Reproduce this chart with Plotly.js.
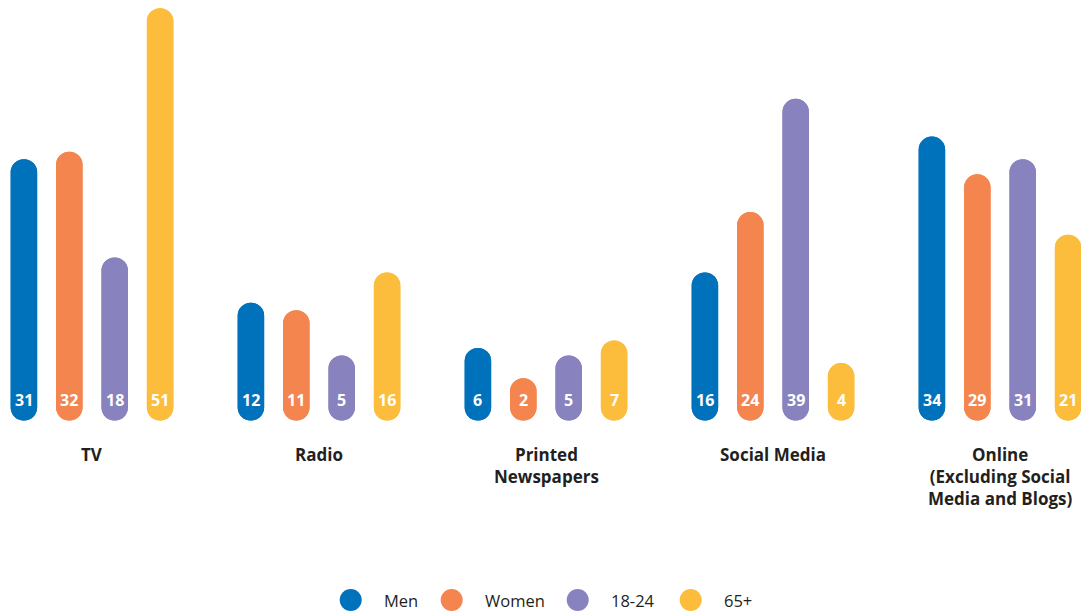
<!DOCTYPE html>
<html>
<head>
<meta charset="utf-8">
<script src="https://cdn.plot.ly/plotly-3.0.1.min.js"></script>
<style>
html,body{margin:0;padding:0;background:#fff;}
#chart{width:1081px;height:614px;}
</style>
</head>
<body>
<div id="chart"></div>
<script>
// ---- data ----
var categories = ['TV', 'Radio', 'Printed<br>Newspapers', 'Social Media', 'Online<br>(Excluding Social<br>Media and Blogs)'];
var seriesNames = ['Men', 'Women', '18-24', '65+'];
var men      = [31, 12, 6, 16, 34];
var women    = [32, 11, 2, 24, 29];
var age18_24 = [18, 5, 5, 39, 31];
var age65    = [51, 16, 7, 4, 21];
var seriesValues = [men, women, age18_24, age65];
var seriesColors = ['#0072bc', '#f4854f', '#8883be', '#fdbd3c'];

// ---- layout constants ----
var W = 1081, H = 614;
var plotBottomPx = 430;           // bottom of plot area (px from top)
var groupStep = 0.2;              // offset between bars inside a group (x units)
var barWidth = 0.1167;            // bar width (x units)
var pillBase = -3.6;              // rounded bottom extends below zero
var labelY = -0.9;                // value-label position
var xRange = [-0.4053, 4.3568];
var yRange = [-4.86, 52.09];
var textFont = 'Open Sans, Noto Sans, sans-serif';
var darkText = '#231f20';

var traces = [];
var annotations = [];
var shapes = [];

seriesValues.forEach(function (vals, j) {
  var xs = vals.map(function (v, i) { return i + (j - 1.5) * groupStep; });
  // upward bar, rounded top
  traces.push({
    type: 'bar', x: xs, y: vals.map(function (v) { return v - pillBase; }),
    base: vals.map(function () { return pillBase; }),
    width: barWidth, marker: {color: seriesColors[j], cornerradius: '50%', line: {width: 0}},
    name: seriesNames[j], showlegend: false, hoverinfo: 'skip'
  });
  // downward bar, rounded bottom
  traces.push({
    type: 'bar', x: xs, y: vals.map(function (v) { return pillBase - v; }),
    base: vals,
    width: barWidth, marker: {color: seriesColors[j], cornerradius: '50%', line: {width: 0}},
    name: seriesNames[j], showlegend: false, hoverinfo: 'skip'
  });
  vals.forEach(function (v, i) {
    annotations.push({
      x: xs[i], y: labelY, xref: 'x', yref: 'y', text: String(v), showarrow: false,
      xanchor: 'center', yanchor: 'middle',
      font: {family: textFont, size: 16, color: '#ffffff', weight: 700}
    });
  });
});

categories.forEach(function (c, i) {
  annotations.push({
    x: i, y: 0, xref: 'x', yref: 'paper', text: '<b>' + c + '</b>', showarrow: false,
    xanchor: 'center', yanchor: 'top', yshift: -11, align: 'center',
    font: {family: textFont, size: 17, color: darkText}
  });
});

// legend (drawn as shapes + text)
var legendCentersPx = [350.7, 451.7, 577.7, 690.7];
var legendYPx = 600;
var legendYPaper = (plotBottomPx - legendYPx) / plotBottomPx;
seriesNames.forEach(function (n, j) {
  shapes.push({
    type: 'circle', xref: 'paper', yref: 'paper', xsizemode: 'pixel', ysizemode: 'pixel',
    xanchor: legendCentersPx[j] / W, yanchor: legendYPaper,
    x0: -11, x1: 11, y0: -11, y1: 11,
    fillcolor: seriesColors[j], line: {width: 0}
  });
  annotations.push({
    x: (legendCentersPx[j] + 31) / W, y: legendYPaper, xref: 'paper', yref: 'paper',
    text: n, showarrow: false, xanchor: 'left', yanchor: 'middle',
    font: {family: textFont, size: 16.5, color: darkText, weight: 500}
  });
});

var layout = {
  width: W, height: H,
  margin: {l: 0, r: 0, t: 0, b: H - plotBottomPx, pad: 0},
  paper_bgcolor: '#ffffff', plot_bgcolor: '#ffffff',
  barmode: 'overlay',
  showlegend: false,
  xaxis: {range: xRange, visible: false, fixedrange: true},
  yaxis: {range: yRange, visible: false, fixedrange: true},
  annotations: annotations,
  shapes: shapes
};

Plotly.newPlot('chart', traces, layout, {displayModeBar: false, staticPlot: true});
</script>
</body>
</html>
